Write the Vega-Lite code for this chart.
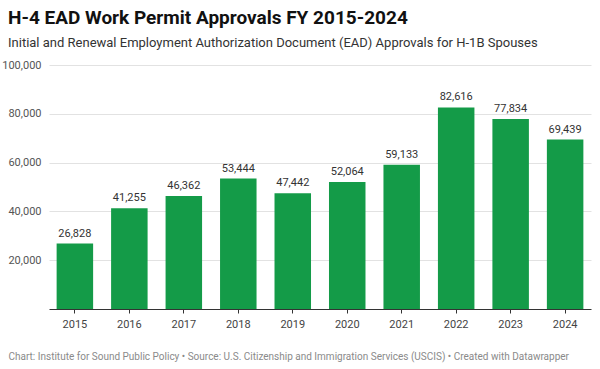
{
  "$schema": "https://vega.github.io/schema/vega-lite/v6.json",
  "width": 542,
  "height": 244,
  "autosize": {"type": "none"},
  "padding": {"left": 49, "top": 65, "right": 9, "bottom": 60},
  "background": "#ffffff",
  "config": {
    "view": {"stroke": null},
    "font": "Roboto"
  },
  "title": {
    "text": "H-4 EAD Work Permit Approvals FY 2015-2024",
    "subtitle": "Initial and Renewal Employment Authorization Document (EAD) Approvals for H-1B Spouses",
    "anchor": "start",
    "frame": "group",
    "dx": -41,
    "offset": 9,
    "font": "Roboto",
    "fontSize": 19,
    "fontWeight": "bold",
    "color": "#111111",
    "subtitleFont": "Roboto",
    "subtitleFontSize": 13,
    "subtitleColor": "#333333",
    "subtitlePadding": 9
  },
  "data": {
    "values": [
      {"year": "2015", "approvals": 26828},
      {"year": "2016", "approvals": 41255},
      {"year": "2017", "approvals": 46362},
      {"year": "2018", "approvals": 53444},
      {"year": "2019", "approvals": 47442},
      {"year": "2020", "approvals": 52064},
      {"year": "2021", "approvals": 59133},
      {"year": "2022", "approvals": 82616},
      {"year": "2023", "approvals": 77834},
      {"year": "2024", "approvals": 69439}
    ]
  },
  "encoding": {
    "x": {
      "field": "year",
      "type": "nominal",
      "scale": {"paddingInner": 0.33, "paddingOuter": 0.14},
      "axis": {
        "title": "Chart: Institute for Sound Public Policy • Source: U.S. Citizenship and Immigration Services (USCIS) • Created with Datawrapper",
        "titleFont": "Roboto",
        "titleFontSize": 10,
        "titleFontWeight": "normal",
        "titleColor": "#8a8a8a",
        "titleAnchor": "start",
        "titleAlign": "left",
        "titleBaseline": "alphabetic",
        "titleX": -41,
        "titleY": 50,
        "labelAngle": 0,
        "labelFont": "Roboto",
        "labelFontSize": 11,
        "labelColor": "#444444",
        "labelPadding": 5,
        "domainColor": "#333333",
        "domainWidth": 1,
        "tickColor": "#333333",
        "tickSize": 4,
        "grid": false
      }
    },
    "y": {
      "field": "approvals",
      "type": "quantitative",
      "scale": {"domain": [0, 100000], "nice": false},
      "axis": {
        "title": null,
        "values": [20000, 40000, 60000, 80000, 100000],
        "labelExpr": "format(datum.value, ',')",
        "domain": false,
        "ticks": false,
        "labelFont": "Roboto",
        "labelFontSize": 11,
        "labelColor": "#555555",
        "labelPadding": 8,
        "gridColor": "#e2e2e2",
        "gridWidth": 1
      }
    }
  },
  "layer": [
    {
      "mark": {"type": "bar", "color": "#149b48"}
    },
    {
      "mark": {"type": "text", "baseline": "bottom", "dy": -5, "font": "Roboto", "fontSize": 11, "color": "#333333"},
      "encoding": {
        "text": {"field": "approvals", "type": "quantitative", "format": ","}
      }
    }
  ]
}
